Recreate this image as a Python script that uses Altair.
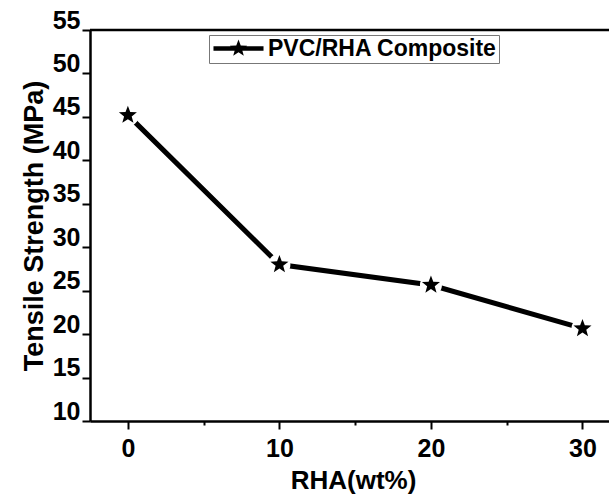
import math
import altair as alt
import pandas as pd

# ---- data ----
rha_wt = [0, 10, 20, 30]
tensile_mpa = [45.2, 28.0, 25.65, 20.65]
series_name = "PVC/RHA Composite"

y_ticks = [10 + 2.5 * i for i in range(19)]      # major every 5, minor between
x_ticks = [0, 5, 10, 15, 20, 25, 30]

df = pd.DataFrame({"rha": rha_wt, "ts": tensile_mpa, "series": [series_name] * len(rha_wt)})


def star_path(R=1.0, r=0.42, sx=0.0):
    pts = []
    for k in range(10):
        ang = math.radians(-90 + 36 * k)
        rad = R if k % 2 == 0 else r
        pts.append((sx + rad * math.cos(ang), rad * math.sin(ang)))
    return "M" + "L".join(f"{x:.3f},{y:.3f}" for x, y in pts) + "Z"


STAR = star_path()
LEG_SYMBOL = "M-2.78,-0.26L2.78,-0.26L2.78,0.26L-2.78,0.26Z" + star_path()

FONT = "Liberation Sans"

x_scale = alt.Scale(domain=[-2.5, 31.75], nice=False, zero=False)
y_scale = alt.Scale(domain=[10, 55], nice=False, zero=False)

x_enc = alt.X(
    "rha:Q",
    scale=x_scale,
    axis=alt.Axis(
        values=x_ticks,
        labelExpr="datum.value % 10 === 0 ? datum.label : ''",
        tickSize={"condition": {"test": "datum.value % 10 === 0", "value": 8}, "value": 4},
        tickWidth=2,
        tickColor="black",
        domainColor="black",
        domainWidth=2.5,
        grid=False,
        labelFont=FONT,
        labelFontSize=25,
        labelFontWeight="bold",
        labelColor="black",
        labelPadding=7,
        title="RHA(wt%)",
        titleFont=FONT,
        titleFontSize=26,
        titleFontWeight="bold",
        titleColor="black",
        titlePadding=6,
        titleX=263,
    ),
)

y_enc = alt.Y(
    "ts:Q",
    scale=y_scale,
    axis=alt.Axis(
        values=y_ticks,
        labelExpr="datum.value % 5 === 0 ? datum.label : ''",
        tickSize={"condition": {"test": "datum.value % 5 === 0", "value": 8}, "value": 4},
        tickWidth=2,
        tickColor="black",
        domainColor="black",
        domainWidth=2.5,
        grid=False,
        labelFont=FONT,
        labelFontSize=25,
        labelFontWeight="bold",
        labelColor="black",
        labelPadding=2,
        labelOffset=-10,
        title="Tensile Strength (MPa)",
        titleFont=FONT,
        titleFontSize=27,
        titleFontWeight="bold",
        titleColor="black",
        titlePadding=4,
    ),
)

base = alt.Chart(df)

line = base.mark_line(color="black", strokeWidth=5).encode(x=x_enc, y=y_enc)

gaps = base.mark_point(shape="circle", filled=True, color="white", size=484, opacity=1).encode(
    x="rha:Q", y="ts:Q"
)

stars = base.mark_point(shape=STAR, filled=True, size=361, opacity=1).encode(
    x="rha:Q",
    y="ts:Q",
    color=alt.Color(
        "series:N",
        scale=alt.Scale(domain=[series_name], range=["black"]),
        legend=alt.Legend(
            title=None,
            orient="none",
            legendX=119,
            legendY=5,
            symbolType=LEG_SYMBOL,
            symbolSize=324,
            symbolFillColor="black",
            symbolStrokeWidth=0,
            symbolOffset=16,
            labelOffset=18,
            labelFont=FONT,
            labelFontSize=23,
            labelFontWeight="bold",
            labelColor="black",
            padding=2,
            strokeColor="#777777",
            fillColor="white",
            labelLimit=400,
        ),
    ),
)

top_border = alt.Chart(pd.DataFrame({"v": [55]})).mark_rule(color="black", strokeWidth=2.5).encode(
    y=alt.Y("v:Q", scale=y_scale)
)

chart = (
    alt.layer(line, gaps, stars, top_border)
    .properties(
        width=519,
        height=391,
        autosize=alt.AutoSizeParams(type="none"),
        padding={"left": 90, "top": 30, "right": 0, "bottom": 76},
        background="white",
    )
    .configure_view(stroke=None)
)

chart.save("out.html", embed_options={"renderer": "svg", "actions": False})
